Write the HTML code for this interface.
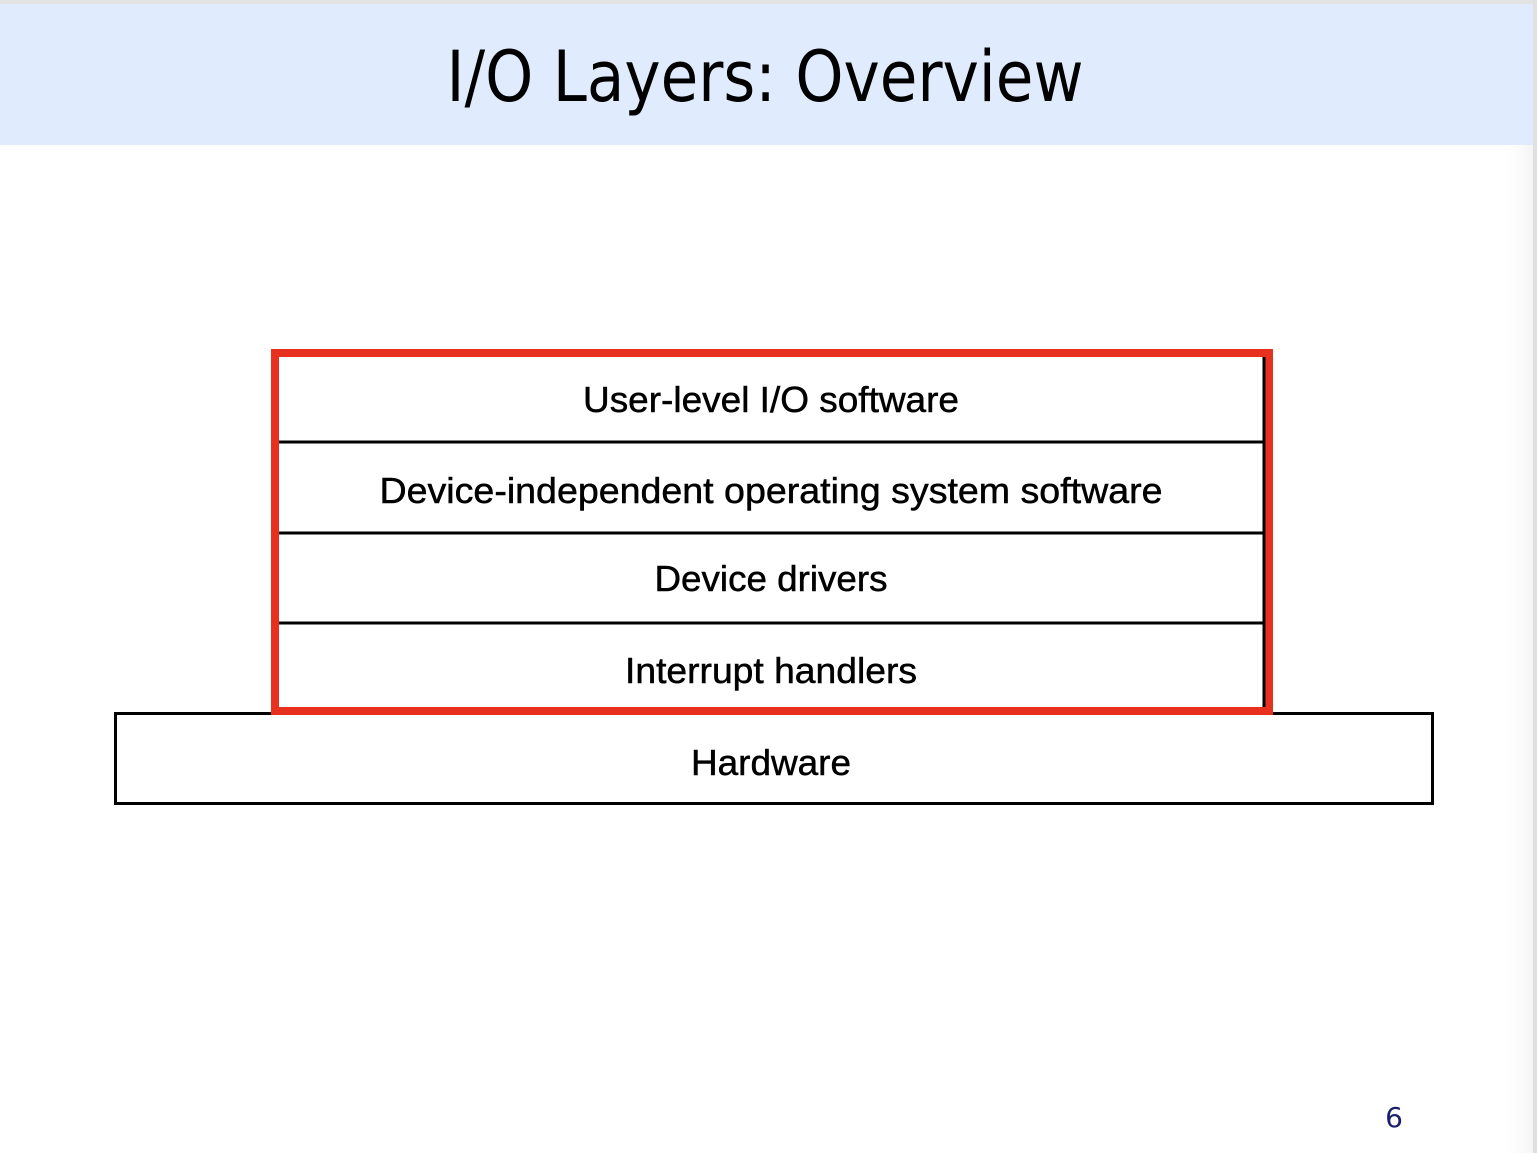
<!DOCTYPE html>
<html><head><meta charset="utf-8"><style>
html,body{margin:0;padding:0;background:#fff;}
svg{display:block;}
</style></head><body>
<svg width="1537" height="1153" viewBox="0 0 1537 1153" xmlns="http://www.w3.org/2000/svg">
<defs><linearGradient id="rg" x1="0" x2="1" y1="0" y2="0"><stop offset="0" stop-color="#fff" stop-opacity="0"/><stop offset="1" stop-color="#f4f4f4"/></linearGradient></defs>
<rect x="0" y="0" width="1537" height="1153" fill="#fff"/>
<rect x="1500" y="145" width="33" height="1008" fill="url(#rg)"/>
<rect x="0" y="0" width="1537" height="4" fill="#e3e3e3"/>
<rect x="0" y="4" width="1533" height="141" fill="#e0ebfd"/>
<rect x="1533" y="0" width="4" height="1153" fill="#e0e0e0"/>
<text x="765" y="101" font-family="'DejaVu Sans','Liberation Sans',sans-serif" font-size="70" text-anchor="middle" textLength="637" lengthAdjust="spacingAndGlyphs" fill="#000">I/O Layers: Overview</text>
<rect x="115.5" y="713.5" width="1317" height="90" fill="#fff" stroke="#000" stroke-width="3"/>
<rect x="275" y="353" width="994" height="358" fill="#fff" stroke="#e8301f" stroke-width="8"/>
<line x1="1264" y1="357" x2="1264" y2="707" stroke="#000" stroke-width="3"/>
<line x1="279" y1="442" x2="1265" y2="442" stroke="#000" stroke-width="3"/>
<line x1="279" y1="533" x2="1265" y2="533" stroke="#000" stroke-width="3"/>
<line x1="279" y1="623" x2="1265" y2="623" stroke="#000" stroke-width="3"/>
<g font-family="'Liberation Sans',sans-serif" font-size="36" fill="#000" stroke="#000" stroke-width="0.5" text-anchor="middle">
<text x="771" y="412" textLength="376" lengthAdjust="spacingAndGlyphs">User-level I/O software</text>
<text x="771" y="503" textLength="783" lengthAdjust="spacingAndGlyphs">Device-independent operating system software</text>
<text x="771" y="591" textLength="233" lengthAdjust="spacingAndGlyphs">Device drivers</text>
<text x="771" y="683" textLength="292" lengthAdjust="spacingAndGlyphs">Interrupt handlers</text>
<text x="771" y="775" textLength="160" lengthAdjust="spacingAndGlyphs">Hardware</text>
</g>
<text x="1394" y="1127" font-family="'DejaVu Sans',sans-serif" font-size="28" fill="#1c1f6e" text-anchor="middle">6</text>
</svg>
</body></html>
